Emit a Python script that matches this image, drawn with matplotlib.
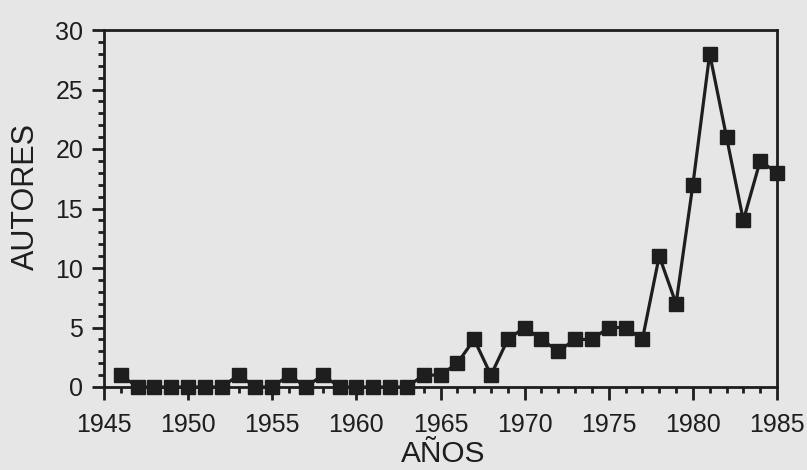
import matplotlib
matplotlib.use("Agg")
import matplotlib.pyplot as plt
from matplotlib.ticker import MultipleLocator

years = list(range(1946, 1986))
autores = [1, 0, 0, 0, 0, 0, 0, 1, 0, 0,
           1, 0, 1, 0, 0, 0, 0, 0, 1, 1,
           2, 4, 1, 4, 5, 4, 3, 4, 4, 5,
           5, 4, 11, 7, 17, 28, 21, 14, 19, 18]
xticks = [1945, 1950, 1955, 1960, 1965, 1970, 1975, 1980, 1985]
yticks = [0, 5, 10, 15, 20, 25, 30]

plt.rcParams['font.family'] = ['Liberation Sans', 'DejaVu Sans']
bg = '#e6e6e6'
ink = '#1e1e1e'

fig = plt.figure(figsize=(8.07, 4.70), dpi=100, facecolor=bg)
ax = fig.add_axes([104/807, 1-387/470, (777-104)/807, (387-30)/470], facecolor=bg)

ax.plot(years, autores, color=ink, lw=2.3, marker='s', markersize=10,
        markerfacecolor=ink, markeredgecolor=ink, clip_on=False, zorder=3)

ax.set_xlim(1945, 1985)
ax.set_ylim(0, 30)
ax.set_xticks(xticks)
ax.set_yticks(yticks)
ax.xaxis.set_minor_locator(MultipleLocator(1))
ax.yaxis.set_minor_locator(MultipleLocator(1))

for s in ax.spines.values():
    s.set_color(ink)
    s.set_linewidth(2.0)

ax.tick_params(axis='both', which='major', direction='out', length=9, width=2,
               color=ink, labelsize=18, labelcolor=ink)
ax.tick_params(axis='both', which='minor', direction='out', length=4.5, width=2,
               color=ink)
ax.tick_params(axis='y', which='major', pad=6)
ax.tick_params(axis='x', which='major', pad=10)

fig.text(443/807, 2/470, 'AÑOS', fontsize=21.5, color=ink,
         ha='center', va='bottom')
fig.text(26/807, 1-197/470, 'AUTORES', fontsize=22, color=ink,
         ha='center', va='center', rotation=90)

fig.savefig('out.png', dpi=100, facecolor=bg)
